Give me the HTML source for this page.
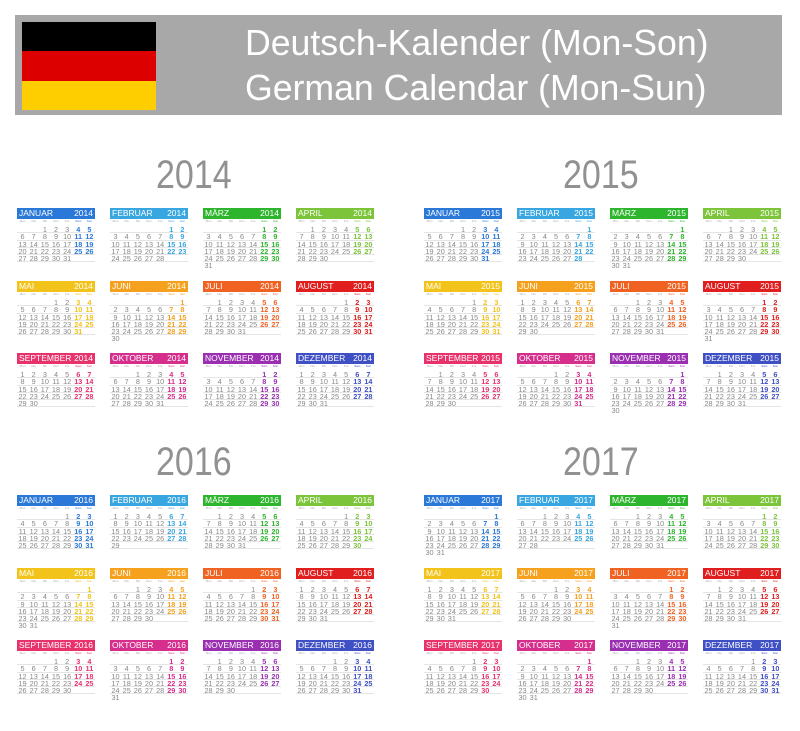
<!DOCTYPE html>
<html><head><meta charset="utf-8"><style>
body{margin:0;width:800px;height:731px;background:#fff;position:relative;overflow:hidden;font-family:"Liberation Sans",sans-serif}
.bar{position:absolute;left:15px;top:15px;width:767px;height:100px;background:#a8a8a8}
.flag{position:absolute;left:22px;top:22px;width:134px;height:88px}
.t{position:absolute;color:#fff;font-size:36px;white-space:nowrap;transform:scaleX(0.99);transform-origin:left top}
.yr{position:absolute;color:#919191;font-size:40px;transform:scaleX(0.85);transform-origin:left top}
.m{position:absolute;width:78px}
.h{height:11px;color:#fff;font-size:8.5px;line-height:11px;position:relative}
.h span{position:absolute;top:0}
.wd{height:7px;font-size:3px;color:#aaa;display:flex}
.wd div,.r div{flex:1;text-align:center}
.r{display:flex;height:7.3px;font-size:7.3px;line-height:7.3px;color:#888;border-bottom:1px solid #e4e4e4;box-sizing:border-box}
</style></head><body>
<div class="bar"></div>
<div class="flag"><div style="height:29px;background:#000"></div><div style="height:30px;background:#dd0000"></div><div style="height:29px;background:#ffce00"></div></div>
<div class="t" style="left:245px;top:22px">Deutsch-Kalender (Mon-Son)</div>
<div class="t" style="left:245px;top:67px">German Calendar (Mon-Sun)</div>
<div class="yr" style="left:156px;top:153px">2014</div>
<div class="yr" style="left:563px;top:153px">2015</div>
<div class="yr" style="left:156px;top:440px">2016</div>
<div class="yr" style="left:563px;top:440px">2017</div>
<div id="c"></div>
<script>
var names=["JANUAR","FEBRUAR","MÄRZ","APRIL","MAI","JUNI","JULI","AUGUST","SEPTEMBER","OKTOBER","NOVEMBER","DEZEMBER"];
var cols=["#2a78d8","#38a6e0","#2db52d","#7cc43a","#f2c31a","#f5a11e","#f06222","#e01e1e","#e8326c","#d52e8c","#9a2fb2","#3f4fc4"];
var wds=["Mon","Die","Mit","Don","Fre","Sam","Son"];
var bx=[[17,110,203,296],[424,517,610,703]];
var by=[[208,281,353],[495,568,640]];
var h="";
[2014,2015,2016,2017].forEach(function(y,yi){
 var xs=bx[yi%2],ys=by[Math.floor(yi/2)];
 for(var mi=0;mi<12;mi++){
  var x=xs[mi%4],top=ys[Math.floor(mi/4)],c=cols[mi];
  h+='<div class="m" style="left:'+x+'px;top:'+top+'px"><div class="h" style="background:'+c+'"><span style="left:2px">'+names[mi]+'</span><span style="right:2px">'+y+'</span></div><div class="wd">';
  wds.forEach(function(w,i){h+='<div'+(i>4?' style="color:'+c+'"':'')+'>'+w+'</div>';});
  h+='</div>';
  var first=(new Date(y,mi,1).getDay()+6)%7,n=new Date(y,mi+1,0).getDate();
  var d=1-first;
  while(d<=n){
   h+='<div class="r"'+(d+6>n&&d+7>n&&first+n>35&&d>28?' style="border:none"':'')+'>';
   for(var i=0;i<7;i++,d++){
    var v=(d>=1&&d<=n)?d:"";
    h+='<div'+(i>4?' style="color:'+c+';font-weight:bold"':'')+'>'+v+'</div>';
   }
   h+='</div>';
  }
  h+='</div>';
 }
});
document.getElementById("c").innerHTML=h;
</script>
</body></html>
